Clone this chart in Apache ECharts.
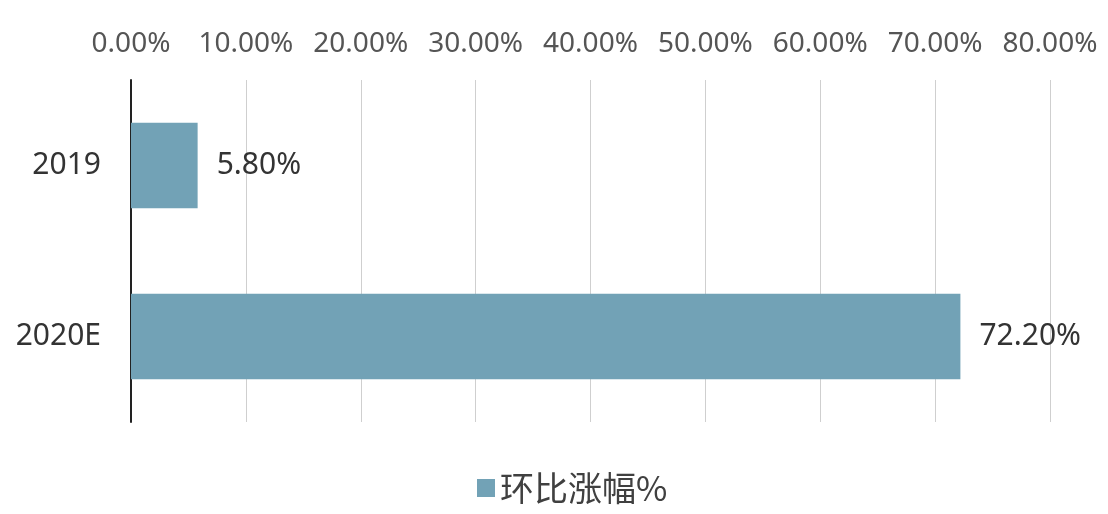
<!DOCTYPE html>
<html><head><meta charset="utf-8">
<script src="https://cdn.jsdelivr.net/npm/echarts@6/dist/echarts.min.js"></script>
<style>html,body{margin:0;padding:0;background:#fff;}#c{width:1108px;height:514px;}</style>
</head><body><div id="c"></div>
<script>
var categories = ['2019', '2020E'];
var values = [5.8, 72.2];
var seriesName = '环比涨幅%';
var chart = echarts.init(document.getElementById('c'));
chart.setOption({
  animation: false,
  grid: {left: 131, right: 58, top: 80, bottom: 92, containLabel: false},
  legend: {
    bottom: 4, left: 472, icon: 'rect', itemWidth: 18, itemHeight: 18, itemGap: 8,
    textStyle: {fontSize: 34, color: '#404040', fontFamily: 'Noto Sans CJK SC'},
    data: [seriesName]
  },
  xAxis: {
    type: 'value', position: 'top', min: 0, max: 80, interval: 10,
    axisLine: {show: false}, axisTick: {show: false},
    splitLine: {lineStyle: {color: '#cfcfcf', width: 1}},
    axisLabel: {fontSize: 28, color: '#555', margin: 22, fontFamily: 'Noto Sans',
      formatter: function(v){ return v.toFixed(2) + '%'; }}
  },
  yAxis: {
    type: 'category', inverse: true, data: categories,
    axisLine: {lineStyle: {color: '#222', width: 2}}, axisTick: {show: false},
    axisLabel: {fontSize: 30, color: '#333', margin: 30, fontFamily: 'Noto Sans'}
  },
  series: [{
    name: seriesName, type: 'bar', data: values, barWidth: '50%',
    itemStyle: {color: '#72A2B6'},
    label: {show: true, position: 'right', distance: 19, fontSize: 30, color: '#333', fontFamily: 'Noto Sans',
      formatter: function(p){ return p.value.toFixed(2) + '%'; }}
  }]
});
</script></body></html>
